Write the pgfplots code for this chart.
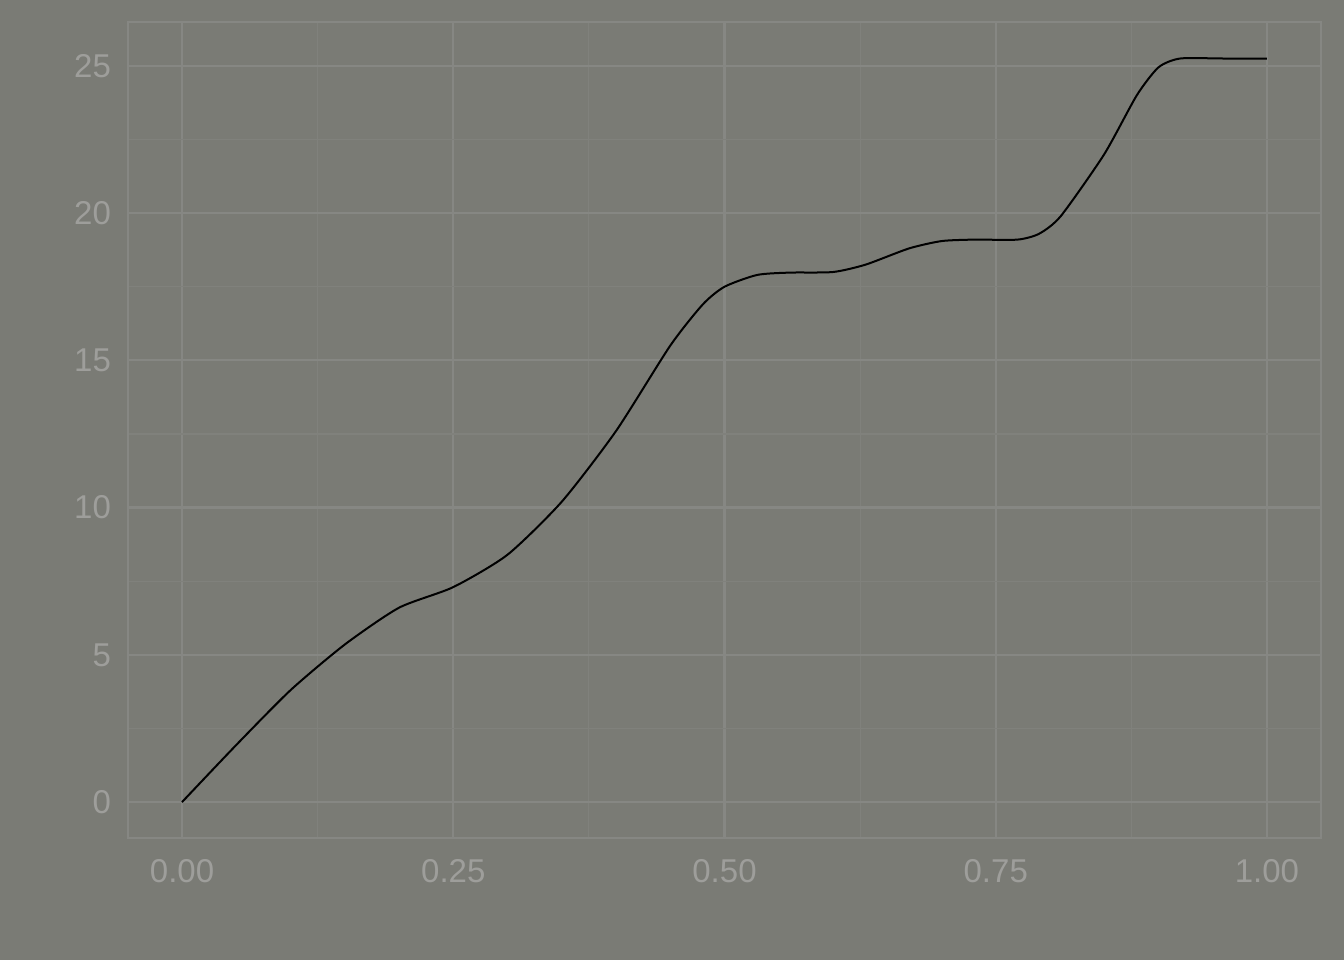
\documentclass[border=0pt]{standalone}
\usepackage{pgfplots}
\pgfplotsset{compat=1.18}
\usepackage{fontspec}
\setmainfont{Liberation Sans}
\definecolor{bg}{HTML}{7A7B75}
\definecolor{gmaj}{HTML}{868783}
\definecolor{gmin}{HTML}{80817C}
\definecolor{txt}{HTML}{9E9E9B}
\begin{document}
\begin{tikzpicture}
\fill[bg] (-64pt,-61pt) rectangle (608pt,419pt);
\begin{axis}[at={(0pt,0pt)},anchor=south west,scale only axis,width=596.5pt,height=408pt,
 xmin=-0.0498,xmax=1.0498,ymin=-1.22,ymax=26.49,
 xtick={0,0.25,0.5,0.75,1},xticklabels={0.00,0.25,0.50,0.75,1.00},
 ytick={0,5,10,15,20,25},
 minor xtick={0.125,0.375,0.625,0.875}, minor ytick={2.5,7.5,12.5,17.5,22.5},
 grid=both, major grid style={gmaj,line width=1.1pt}, minor grid style={gmin,line width=0.6pt},
 axis line style={gmaj,line width=0.8pt}, tick style={draw=none},
 ticklabel style={font=\fontsize{16.5}{19}\selectfont,text=txt},
 /pgf/number format/assume math mode=true,
 xticklabel style={yshift=-7pt}, yticklabel style={xshift=-5pt},
 axis background/.style={fill=bg}]
\addplot[black,line width=1pt,smooth,tension=0.4] coordinates {
(0,0)(0.05,1.94)(0.1,3.8)(0.15,5.35)(0.2,6.6)(0.25,7.3)(0.3,8.4)(0.35,10.2)(0.4,12.6)(0.45,15.5)(0.48,16.9)(0.5,17.5)(0.53,17.9)(0.56,17.98)(0.6,18.0)(0.63,18.25)(0.67,18.8)(0.7,19.05)(0.73,19.1)(0.77,19.1)(0.79,19.3)(0.81,19.9)(0.85,22.0)(0.88,24.0)(0.9,24.95)(0.92,25.25)(0.96,25.25)(1,25.25)};
\end{axis}
\end{tikzpicture}
\end{document}
